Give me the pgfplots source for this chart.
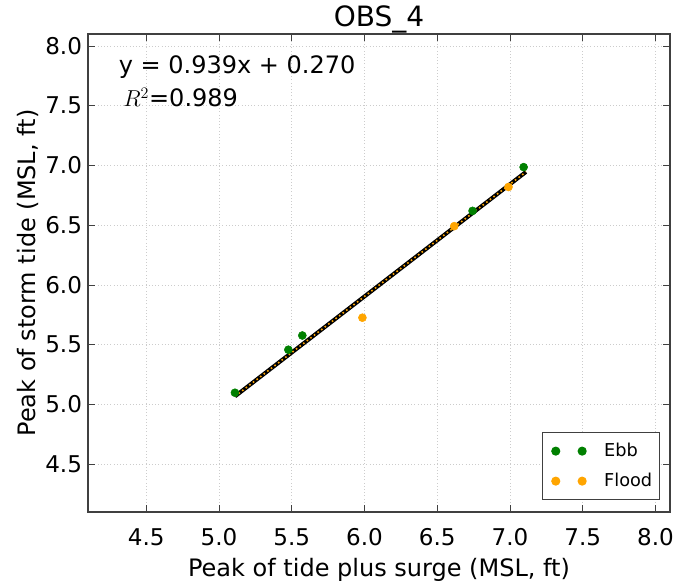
\documentclass[border=0pt]{standalone}
\usepackage{fontspec}
\setmainfont{DejaVu Sans}
\usepackage{pgfplots}
\pgfplotsset{compat=1.18}
\definecolor{ebb}{RGB}{0,128,0}
\definecolor{flood}{RGB}{255,165,0}
\begin{document}
\begin{tikzpicture}
\useasboundingbox (-66pt,-56.25pt) rectangle (441.75pt,384pt);
\begin{axis}[
  scale only axis, width=436.5pt, height=358.5pt,
  at={(0pt,0pt)}, anchor=south west,
  xmin=4.1, xmax=8.1, ymin=4.1, ymax=8.1,
  xtick={4.5,5.0,5.5,6.0,6.5,7.0,7.5,8.0},
  ytick={4.5,5.0,5.5,6.0,6.5,7.0,7.5,8.0},
  /pgf/number format/assume math mode=true,
  /pgf/number format/.cd, fixed, fixed zerofill, precision=1, /pgfplots/.cd,
  tick label style={font=\fontsize{17.3}{19}\selectfont},
  xticklabel style={yshift=-9pt},
  yticklabel style={xshift=-1pt},
  grid=major, major grid style={black!20, dotted, line width=0.6pt},
  tick align=inside, tick pos=both, major tick length=5pt,
  axis line style={black!75, line width=0.8pt},
  every tick/.style={black!75, line width=0.6pt},
  xlabel={Peak of tide plus surge (MSL, ft)},
  ylabel={Peak of storm tide (MSL, ft)},
  label style={font=\fontsize{18}{20}\selectfont},
  xlabel style={at={(rel axis cs:0.5,0)}, anchor=center, yshift=-43.5pt},
  ylabel style={at={(rel axis cs:0,0.5)}, anchor=center, yshift=45pt},
  title={OBS\_4},
  title style={font=\fontsize{21}{24}\selectfont, at={(rel axis cs:0.5,1)}, anchor=center, yshift=5pt},
  legend style={at={(rel axis cs:0.983,0.025)}, anchor=south east, draw=black!75, line width=0.8pt,
    font=\fontsize{13.3}{15}\selectfont, row sep=8.5pt, inner xsep=5.5pt, inner ysep=6.8pt,
    nodes={inner xsep=0pt, inner ysep=0pt}},
  legend cell align=left,
  legend image code/.code={\path[draw=none, fill=none] (0pt,-7pt) rectangle (41pt,7pt);
    \draw[#1] plot coordinates {(4.7pt,0pt) (24.5pt,0pt)};},
]
\addplot[only marks, mark=*, mark size=3pt, color=ebb]
  coordinates {(5.11,5.098) (5.477,5.458) (5.573,5.577) (6.743,6.62) (7.094,6.986)};
\addlegendentry{Ebb}
\addplot[only marks, mark=*, mark size=3pt, color=flood]
  coordinates {(5.986,5.726) (6.617,6.492) (6.99,6.82)};
\addlegendentry{Flood}
\addplot[forget plot, black, line width=3pt, no marks] coordinates {(5.11,5.068) (7.11,6.946)};
\addplot[forget plot, flood, line width=1.2pt, no marks, dash pattern=on 1.2pt off 2.2pt] coordinates {(5.11,5.068) (7.11,6.946)};
\node[anchor=west, font=\fontsize{18}{20}\selectfont] at (axis cs:4.28,7.824) {y = 0.939x + 0.270};
\node[anchor=west, font=\fontsize{18}{20}\selectfont] at (axis cs:4.31,7.57) {$R^2$=0.989};
\end{axis}
\end{tikzpicture}
\end{document}
